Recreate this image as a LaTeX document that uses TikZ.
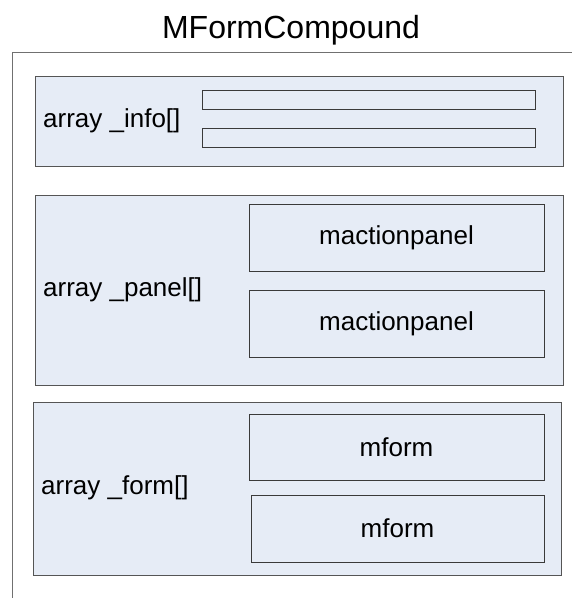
\documentclass[tikz,border=0pt]{standalone}
\usepackage{fontspec}
\setmainfont{Liberation Sans}
\definecolor{boxfill}{HTML}{E6ECF6}
\definecolor{boxline}{HTML}{555555}
\definecolor{innerline}{HTML}{3A3A3A}
\definecolor{frameline}{HTML}{707070}
\tikzset{
  container/.style={draw=boxline, fill=boxfill, line width=1pt, inner sep=0pt, outer sep=0pt},
  innerbox/.style={draw=innerline, fill=boxfill, line width=1pt, inner sep=0pt, outer sep=0pt,
    font=\fontsize{26}{30}\selectfont},
  lbl/.style={anchor=west, inner sep=0pt, font=\fontsize{26}{30}\selectfont},
}
\begin{document}
\begin{tikzpicture}[x=1pt, y=-1pt]
\useasboundingbox[fill=white] (0,0) rectangle (572,598);
% title
\node[anchor=base, inner sep=0pt, font=\fontsize{32}{36}\selectfont] (title) at (291,38) {MFormCompound};
% outer frame (top and left edges visible)
\draw[frameline, line width=1pt] (12,598) -- (12,52) -- (572,52);
% info container
\node[container, minimum width=528pt, minimum height=90pt] (info) at (299,121) {};
\node[innerbox, minimum width=333pt, minimum height=19pt] (bar1) at (368.5,99.5) {};
\node[innerbox, minimum width=333pt, minimum height=19pt] (bar2) at (368.5,137.5) {};
\node[lbl] (infolbl) at (43,121) {array \_info[]};
% panel container
\node[container, minimum width=528pt, minimum height=190pt] (panel) at (299,290) {};
\node[innerbox, minimum width=295pt, minimum height=67pt] (map1) at (396.5,237.5) {mactionpanel};
\node[innerbox, minimum width=295pt, minimum height=67pt] (map2) at (396.5,323.5) {mactionpanel};
\node[lbl] (panellbl) at (43,290) {array \_panel[]};
% form container
\node[container, minimum width=528pt, minimum height=173pt] (form) at (297,488.5) {};
\node[innerbox, minimum width=295pt, minimum height=66pt] (mf1) at (396.5,447) {mform};
\node[innerbox, minimum width=293pt, minimum height=67pt] (mf2) at (397.5,528.5) {mform};
\node[lbl] (formlbl) at (41,488) {array \_form[]};
\end{tikzpicture}
\end{document}
